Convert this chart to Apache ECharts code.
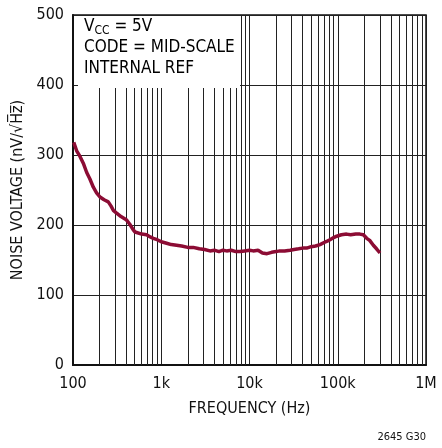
<!DOCTYPE html>
<html>
<head>
<meta charset="utf-8">
<script src="https://cdn.jsdelivr.net/npm/echarts@6/dist/echarts.min.js"></script>
<style>
  html, body { margin: 0; padding: 0; background: #fff; }
  #chart { width: 442px; height: 448px; }
</style>
</head>
<body>
<div id="chart"></div>
<script>
// noise voltage vs frequency
const freq = [102, 110, 120, 132, 143, 155, 170, 185, 202, 225,
  251, 270, 286, 300, 312, 350, 405, 440, 482, 505,
  527, 600, 682, 750, 812, 900, 1000, 1150, 1300, 1490,
  1700, 2000, 2300, 2700, 3100, 3560, 4000, 4500, 5000, 5500,
  6200, 7000, 7800, 8800, 10000, 11000, 12500, 14000, 15800, 17800,
  20000, 22000, 25000, 28800, 32000, 36000, 40000, 44500, 50000, 56000,
  63000, 70000, 76000, 81700, 90000, 97300, 110000, 126000, 140000, 160000,
  178000, 195000, 213000, 230000, 253000, 275000, 301000];
const noise = [318, 306, 298, 287, 275, 266, 254, 246, 240, 236,
  233, 227, 221, 219, 217, 212, 207, 201, 193, 190,
  188, 187, 186, 183, 181, 179, 176, 174, 172, 171,
  170, 168, 168, 166, 165, 163, 164, 162, 164, 163,
  164, 162, 162, 163, 164, 163, 164, 160, 159, 161,
  162, 163, 163, 164, 165, 166, 167, 167, 169, 170,
  172, 175, 177, 179, 182, 184, 186, 187, 186, 187,
  187, 186, 181, 178, 171, 166, 160];

const xTickLabels = { 100: '100', 1000: '1k', 10000: '10k', 100000: '100k', 1000000: '1M' };
const decades = [100, 1000, 10000, 100000];
const minorSteps = [2, 3, 4, 5, 6, 7, 8, 9];

const FONT = '"Liberation Sans Narrow", "DejaVu Sans Condensed", "Liberation Sans", sans-serif';
const LINE_COLOR = '#8c0c34';

// minor vertical grid lines (2..9 within each decade)
const minorLines = [];
decades.forEach(d => minorSteps.forEach(m => minorLines.push({ xAxis: d * m })));

const chart = echarts.init(document.getElementById('chart'));
chart.setOption({
  animation: false,
  backgroundColor: '#fff',
  grid: { left: 73, right: 16, top: 15, bottom: 83, show: true, borderColor: '#111', borderWidth: 1.5 },
  xAxis: {
    type: 'log',
    logBase: 10,
    min: 100,
    max: 1000000,
    name: 'FREQUENCY (Hz)',
    nameLocation: 'middle',
    nameGap: 36,
    nameTextStyle: { fontFamily: FONT, fontSize: 16, color: '#111' },
    axisLine: { lineStyle: { color: '#111', width: 2 } },
    axisTick: { show: false },
    axisLabel: {
      fontFamily: FONT, fontSize: 16, color: '#111', margin: 11,
      formatter: v => xTickLabels[Math.round(v)] || ''
    },
    splitLine: { show: true, lineStyle: { color: '#222', width: 1 } },
    minorSplitLine: { show: false }
  },
  yAxis: {
    type: 'value',
    min: 0,
    max: 500,
    interval: 100,
    name: 'NOISE VOLTAGE (nV/\u221AH\u0305z\u0305)',
    nameLocation: 'middle',
    nameGap: 46,
    nameTextStyle: { fontFamily: FONT, fontSize: 16, color: '#111' },
    axisLine: { show: true, lineStyle: { color: '#111', width: 2 } },
    axisTick: { show: false },
    axisLabel: { fontFamily: FONT, fontSize: 16, color: '#111', margin: 9 },
    splitLine: { show: true, lineStyle: { color: '#222', width: 1 } }
  },
  graphic: [
    {
      type: 'rect', z: 50,
      shape: { x: 78, y: 16, width: 162, height: 72 },
      style: { fill: '#fff' }
    },
    {
      type: 'text', z: 51, left: 84, top: 17,
      style: {
        text: '{a|V}{s|CC}{a| = 5V}\n{a|CODE = MID-SCALE}\n{a|INTERNAL REF}',
        rich: {
          a: { fontFamily: FONT, fontSize: 17, color: '#111', lineHeight: 21 },
          s: { fontFamily: FONT, fontSize: 12, color: '#111', lineHeight: 21, padding: [8, 0, 0, 0] }
        }
      }
    },
    {
      type: 'text', right: 16, top: 432,
      style: { text: '2645 G30', fontFamily: FONT, fontSize: 11, fill: '#111' }
    }
  ],
  series: [
    {
      type: 'line',
      data: [],
      silent: true,
      z: 1,
      markLine: {
        silent: true,
        symbol: 'none',
        label: { show: false },
        lineStyle: { color: '#222', width: 1, type: 'solid' },
        data: minorLines
      }
    },
    {
      type: 'line',
      z: 60,
      data: freq.map((f, i) => [f, noise[i]]),
      showSymbol: false,
      smooth: false,
      lineStyle: { color: LINE_COLOR, width: 3.5 }
    }
  ]
});
</script>
</body>
</html>
